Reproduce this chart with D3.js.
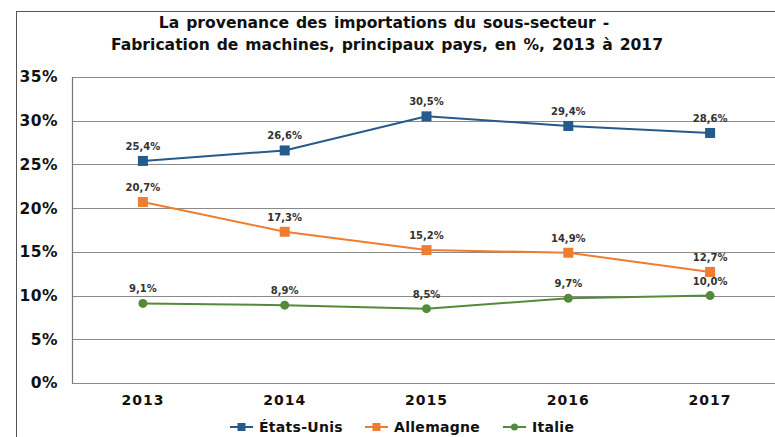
<!DOCTYPE html>
<html>
<head>
<meta charset="utf-8">
<script src="https://cdn.jsdelivr.net/npm/d3@7"></script>
<style>
  body { margin: 0; background: #fff; }
  svg { display: block; font-family: "DejaVu Sans", Verdana, sans-serif; }
</style>
</head>
<body>
<svg id="chart" width="775" height="437"></svg>
<script>
// data
var years = ["2013", "2014", "2015", "2016", "2017"];
var etatsUnis = [25.4, 26.6, 30.5, 29.4, 28.6];
var allemagne = [20.7, 17.3, 15.2, 14.9, 12.7];
var italie = [9.1, 8.9, 8.5, 9.7, 10.0];
var yTicks = [0, 5, 10, 15, 20, 25, 30, 35];

var series = [
    { name: "États-Unis", values: etatsUnis, color: "#255a8a", marker: "square" },
    { name: "Allemagne", values: allemagne, color: "#ee7d31", marker: "square" },
    { name: "Italie", values: italie, color: "#558a3a", marker: "circle" }
];

var svg = d3.select("#chart");

// outer frame (right and bottom edges fall outside the window)
svg.append("rect")
    .attr("x", 16.5).attr("y", 11.5)
    .attr("width", 800).attr("height", 460)
    .attr("fill", "none")
    .attr("stroke", "#555")
    .attr("stroke-width", 1);

// title
var title = svg.append("text")
    .attr("text-anchor", "middle")
    .attr("font-size", "15.6px")
    .attr("font-weight", "bold")
    .attr("word-spacing", "1.5px")
    .attr("fill", "#111");
title.append("tspan").attr("x", 384).attr("y", 28).text("La provenance des importations du sous-secteur -");
title.append("tspan").attr("x", 387).attr("y", 50).text("Fabrication de machines, principaux pays, en %, 2013 à 2017");

// plot area (note: "top" is taken by window.top)
var plotLeft = 72, plotRight = 781, plotTop = 77, plotBottom = 383;

var x = d3.scalePoint().domain(years).range([plotLeft, plotRight]).padding(0.5);
var y = d3.scaleLinear().domain([0, 35]).range([plotBottom, plotTop]);

// gridlines
svg.append("g").selectAll("line").data(yTicks).enter()
    .append("line")
        .attr("x1", plotLeft).attr("x2", plotRight)
        .attr("y1", function(d) { return Math.round(y(d)) + 0.5; })
        .attr("y2", function(d) { return Math.round(y(d)) + 0.5; })
        .attr("stroke", "#8a8a8a")
        .attr("stroke-width", 1.2);

// left axis line
svg.append("line")
    .attr("x1", plotLeft + 0.5).attr("x2", plotLeft + 0.5)
    .attr("y1", plotTop).attr("y2", plotBottom)
    .attr("stroke", "#777")
    .attr("stroke-width", 1.2);

// y tick labels
svg.append("g").selectAll("text").data(yTicks).enter()
    .append("text")
        .attr("x", 58)
        .attr("y", function(d) { return y(d); })
        .attr("dy", "0.35em")
        .attr("text-anchor", "end")
        .attr("font-size", "15.5px")
        .attr("font-weight", "bold")
        .attr("letter-spacing", "0.5px")
        .attr("fill", "#111")
        .text(function(d) { return d + "%"; });

// x tick labels
svg.append("g").selectAll("text").data(years).enter()
    .append("text")
        .attr("x", function(d) { return x(d); })
        .attr("y", 405)
        .attr("text-anchor", "middle")
        .attr("font-size", "14px")
        .attr("font-weight", "bold")
        .attr("letter-spacing", "1px")
        .attr("fill", "#111")
        .text(function(d) { return d; });

var line = d3.line()
    .x(function(d, i) { return x(years[i]); })
    .y(function(d) { return y(d); });

function fmt(v) { return v.toFixed(1).replace(".", ",") + "%"; }

series.forEach(function(s) {
    var g = svg.append("g");
    g.append("path")
        .attr("d", line(s.values))
        .attr("fill", "none")
        .attr("stroke", s.color)
        .attr("stroke-width", 2);

    if (s.marker === "square") {
        g.selectAll("rect").data(s.values).enter()
            .append("rect")
                .attr("x", function(d, i) { return x(years[i]) - 5; })
                .attr("y", function(d) { return y(d) - 5; })
                .attr("width", 10).attr("height", 10)
                .attr("fill", s.color);
    } else {
        g.selectAll("circle").data(s.values).enter()
            .append("circle")
                .attr("cx", function(d, i) { return x(years[i]); })
                .attr("cy", function(d) { return y(d); })
                .attr("r", 4.5)
                .attr("fill", s.color);
    }

    g.selectAll("text").data(s.values).enter()
        .append("text")
            .attr("x", function(d, i) { return x(years[i]); })
            .attr("y", function(d) { return y(d) - 11; })
            .attr("text-anchor", "middle")
            .attr("font-size", "10px")
            .attr("font-weight", "bold")
            .attr("fill", "#333")
            .text(fmt);
});

// legend
var legendX = [230, 365, 503];
var legend = svg.append("g").selectAll("g").data(series).enter()
    .append("g")
        .attr("transform", function(d, i) { return "translate(" + legendX[i] + ",427)"; });
legend.append("line")
    .attr("x1", 0).attr("x2", 23)
    .attr("stroke", function(d) { return d.color; })
    .attr("stroke-width", 2);
legend.each(function(d) {
    var g = d3.select(this);
    if (d.marker === "square") {
        g.append("rect").attr("x", 7.5).attr("y", -4).attr("width", 8).attr("height", 8).attr("fill", d.color);
    } else {
        g.append("circle").attr("cx", 11.5).attr("r", 3.5).attr("fill", d.color);
    }
});
legend.append("text")
    .attr("x", 29)
    .attr("dy", "0.35em")
    .attr("font-size", "14px")
    .attr("font-weight", "bold")
    .attr("letter-spacing", "0.3px")
    .attr("fill", "#111")
    .text(function(d) { return d.name; });
</script>
</body>
</html>
